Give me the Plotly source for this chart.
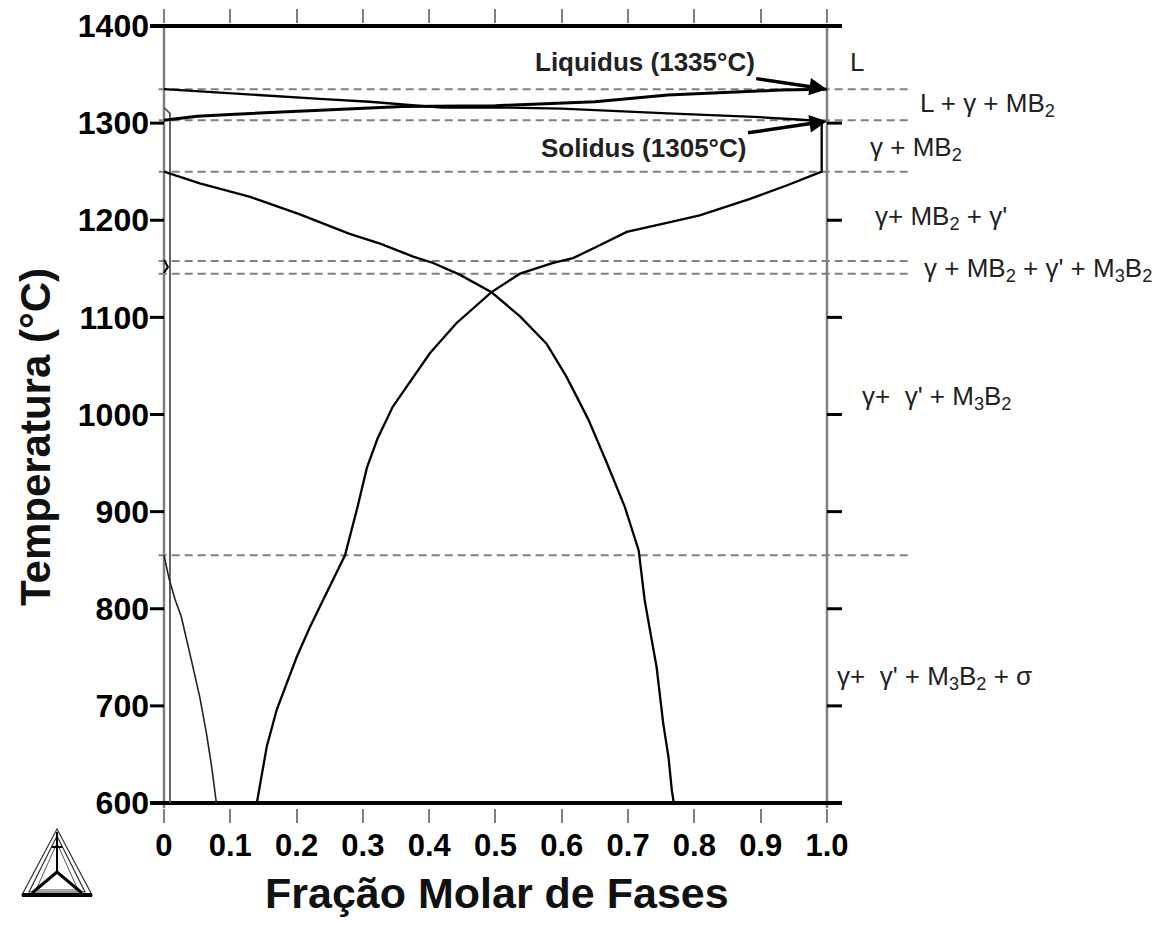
import plotly.graph_objects as go

# ---------------- data ----------------
x_ticks = [0, 0.1, 0.2, 0.3, 0.4, 0.5, 0.6, 0.7, 0.8, 0.9, 1.0]
x_tick_text = ["0", "0.1", "0.2", "0.3", "0.4", "0.5", "0.6", "0.7", "0.8", "0.9", "1.0"]
y_ticks = [600, 700, 800, 900, 1000, 1100, 1200, 1300, 1400]

# Liquid fraction
liquid_x = [0.0, 0.05, 0.10, 0.23, 0.36, 0.50, 0.65, 0.76, 0.86, 0.93, 1.0]
liquid_T = [1303, 1307, 1309, 1313, 1317, 1318, 1322, 1329, 1332, 1334, 1335]

# gamma (FCC) fraction
gamma_x = [0.0, 0.07, 0.15, 0.235, 0.31, 0.36, 0.42, 0.52, 0.60, 0.76, 0.89, 0.95, 0.992,
           0.992, 0.94, 0.884, 0.808, 0.75, 0.698, 0.658, 0.617, 0.587, 0.537, 0.494, 0.441,
           0.401, 0.376, 0.345, 0.322, 0.306, 0.292, 0.273, 0.24, 0.22, 0.20, 0.18, 0.17, 0.155, 0.14]
gamma_T = [1335, 1332, 1328, 1325, 1322, 1319, 1316, 1316, 1315, 1310, 1306.5, 1304, 1302,
           1250, 1236, 1222, 1205, 1196, 1188, 1174.5, 1161, 1156, 1145, 1126, 1094,
           1063, 1039, 1008, 975, 945, 905, 855, 809, 781, 750, 713, 696, 658, 600]

# gamma' fraction
gammap_x = [0.0, 0.054, 0.13, 0.205, 0.28, 0.326, 0.376, 0.406, 0.446, 0.494, 0.537, 0.577,
            0.607, 0.64, 0.668, 0.695, 0.716, 0.725, 0.733, 0.743, 0.753, 0.761, 0.766, 0.769]
gammap_T = [1250, 1238, 1224, 1206, 1186, 1176, 1162.5, 1156, 1144, 1126, 1101, 1073,
            1039, 995, 950, 905, 860, 809, 778, 740, 682, 647, 613, 600]

# sigma fraction
sigma_x = [0.0, 0.008, 0.017, 0.026, 0.042, 0.054, 0.064, 0.072, 0.079]
sigma_T = [855, 830, 809, 792, 745, 709, 672, 637, 600]

# borides (MB2 / M3B2) fraction
boride_x = [0.0, 0.009, 0.009]
boride_T = [1316, 1310, 600]
m3b2_x = [0.0, 0.006, 0.0]
m3b2_T = [1159, 1152, 1146]

# phase boundary temperatures (dashed)
boundary_T = [1335, 1303, 1250, 1158, 1145, 855]

region_labels = ["L", "L + γ + MB<sub>2</sub>", "γ + MB<sub>2</sub>", "γ+ MB<sub>2</sub> + γ'",
                 "γ + MB<sub>2</sub> + γ' + M<sub>3</sub>B<sub>2</sub>", "γ+  γ' + M<sub>3</sub>B<sub>2</sub>",
                 "γ+  γ' + M<sub>3</sub>B<sub>2</sub> + σ"]
region_pos = [(1.032, 1363), (1.137, 1319), (1.062, 1274), (1.069, 1203),
              (1.143, 1149), (1.050, 1017), (1.012, 729)]

# ---------------- geometry ----------------
XL, XR = -0.0211, 1.5023
YB, YT = 594.85, 1402.06

fig = go.Figure()

GRAY = "#808080"
# boundary dashed lines
for t in boundary_T:
    fig.add_trace(go.Scatter(x=[-0.008, 1.125], y=[t, t], mode="lines",
                             line=dict(color=GRAY, width=2, dash="8px,5px"),
                             hoverinfo="skip", showlegend=False))

# frame verticals x=0 and x=1
for xv in [0.0, 1.0]:
    fig.add_trace(go.Scatter(x=[xv, xv], y=[580, 1420], mode="lines",
                             line=dict(color=GRAY, width=2.5),
                             hoverinfo="skip", showlegend=False))

# thick horizontal frame lines at 1400 and 600
for t in [y_ticks[0], y_ticks[-1]]:
    fig.add_trace(go.Scatter(x=[XL, 1.0226], y=[t, t], mode="lines",
                             line=dict(color="black", width=4),
                             hoverinfo="skip", showlegend=False))

# y tick marks left and right
for t in y_ticks[1:-1]:
    fig.add_trace(go.Scatter(x=[XL, 0.0], y=[t, t], mode="lines",
                             line=dict(color="black", width=3),
                             hoverinfo="skip", showlegend=False))
    fig.add_trace(go.Scatter(x=[1.0, 1.0226], y=[t, t], mode="lines",
                             line=dict(color="black", width=3),
                             hoverinfo="skip", showlegend=False))

# phase curves
fig.add_trace(go.Scatter(x=boride_x, y=boride_T, mode="lines",
                         line=dict(color="#555555", width=1.8), showlegend=False))
fig.add_trace(go.Scatter(x=m3b2_x, y=m3b2_T, mode="lines",
                         line=dict(color="black", width=2), showlegend=False))
fig.add_trace(go.Scatter(x=sigma_x, y=sigma_T, mode="lines",
                         line=dict(color="#222222", width=1.6), showlegend=False))
fig.add_trace(go.Scatter(x=gammap_x, y=gammap_T, mode="lines",
                         line=dict(color="black", width=2.3), showlegend=False))
fig.add_trace(go.Scatter(x=gamma_x, y=gamma_T, mode="lines",
                         line=dict(color="black", width=2.3), showlegend=False))
fig.add_trace(go.Scatter(x=liquid_x, y=liquid_T, mode="lines",
                         line=dict(color="black", width=3), showlegend=False))

annotations = []
for txt, (ax_, ay_) in zip(region_labels, region_pos):
    annotations.append(dict(x=ax_, y=ay_, xref="x", yref="y", text=txt, showarrow=False,
                            xanchor="left", yanchor="middle",
                            font=dict(family="Liberation Sans, Arial", size=26, color="#222222")))

annotations.append(dict(x=1.0, y=liquid_T[-1], xref="x", yref="y",
                        text="Liquidus (1335°C)", showarrow=True, ax=-182, ay=-27,
                        arrowhead=2, arrowsize=1, arrowwidth=3.5, arrowcolor="black",
                        font=dict(family="Liberation Sans, Arial", size=26, color="#222222", weight="bold")))
annotations.append(dict(x=1.0, y=1302, xref="x", yref="y",
                        text="Solidus (1305°C)", showarrow=True, ax=-183, ay=27,
                        arrowhead=2, arrowsize=1, arrowwidth=3.5, arrowcolor="black",
                        font=dict(family="Liberation Sans, Arial", size=26, color="#222222", weight="bold")))

# axis titles
annotations.append(dict(x=(497 - 150) / 1010, y=(808 - 893) / 784, xref="paper", yref="paper",
                        text="Fração Molar de Fases", showarrow=False, xanchor="center", yanchor="middle",
                        font=dict(family="Liberation Sans, Arial", size=43, color="#111111", weight="bold")))
annotations.append(dict(x=(35 - 150) / 1010, y=(808 - 437) / 784, xref="paper", yref="paper",
                        text="Temperatura (°C)", showarrow=False, textangle=-90,
                        xanchor="center", yanchor="middle",
                        font=dict(family="Liberation Sans, Arial", size=42, color="#111111", weight="bold")))


def P(px, py):
    return (px - 150) / 1010, (808 - py) / 784


def path(points):
    s = ""
    for i, (px, py) in enumerate(points):
        xp, yp = P(px, py)
        s += ("M" if i == 0 else "L") + f"{xp:.5f},{yp:.5f} "
    return s


shapes = []
# Thermo-Calc style logo
shapes.append(dict(type="path", xref="paper", yref="paper",
                   path=path([(57, 829), (22, 895), (92, 895)]) + "Z",
                   line=dict(color="#333333", width=1.2)))
shapes.append(dict(type="path", xref="paper", yref="paper",
                   path=path([(57, 836), (29, 892), (85, 892)]) + "Z",
                   line=dict(color="#333333", width=1.2)))
shapes.append(dict(type="path", xref="paper", yref="paper",
                   path=path([(57, 843), (36, 890), (78, 890)]) + "Z",
                   line=dict(color="#555555", width=1)))
shapes.append(dict(type="path", xref="paper", yref="paper",
                   path=path([(22, 895), (92, 895)]),
                   line=dict(color="black", width=4)))
shapes.append(dict(type="path", xref="paper", yref="paper",
                   path=path([(57, 832), (57, 872)]),
                   line=dict(color="black", width=2)))
shapes.append(dict(type="path", xref="paper", yref="paper",
                   path=path([(52, 847), (62, 847)]),
                   line=dict(color="black", width=2)))
shapes.append(dict(type="path", xref="paper", yref="paper",
                   path=path([(32, 893), (57, 872), (82, 893)]),
                   line=dict(color="black", width=3)))

# The page adds an 8px body margin, so margins are reduced by 8px to keep the
# plot area at screen pixels x 150..1160 and y 24..808.
fig.update_layout(
    width=1167, height=925,
    margin=dict(l=142, r=15, t=16, b=125, autoexpand=False),
    paper_bgcolor="white", plot_bgcolor="white",
    showlegend=False,
    annotations=annotations,
    shapes=shapes,
    xaxis=dict(range=[XL, XR], tickmode="array", tickvals=x_ticks, ticktext=x_tick_text,
               ticks="outside", ticklen=14, tickwidth=2, tickcolor=GRAY, mirror="ticks",
               showline=False, showgrid=False, zeroline=False, ticklabelstandoff=-4,
               automargin=False,
               tickfont=dict(family="Liberation Sans, Arial", size=31, color="black", weight="bold")),
    yaxis=dict(range=[YB, YT], tickmode="array", tickvals=y_ticks,
               ticks="", showline=False, showgrid=False, zeroline=False, automargin=False,
               tickfont=dict(family="Liberation Sans, Arial", size=32, color="black", weight="bold")),
)

fig.write_html("out.html", config={"displayModeBar": False})
